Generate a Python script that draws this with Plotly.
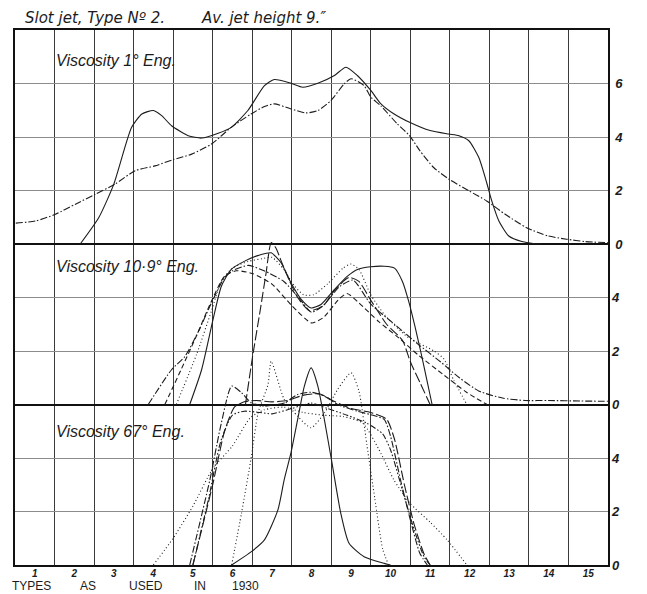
import plotly.graph_objects as go

# ---------------- data ----------------
x_ticks = list(range(1, 16))
x_tick_labels = [str(i) for i in x_ticks]

# Top panel: Viscosity 1° Eng.
top_solid_x = [2.15, 2.62, 3.0, 3.45, 3.71, 4.0, 4.21, 4.46, 4.88, 5.22, 5.64, 5.97, 6.39, 6.81, 7.06, 7.48,
               7.78, 8.16, 8.58, 8.87, 9.16, 9.5, 9.75, 10.08, 10.48, 11.0, 11.47, 11.73, 11.98, 12.23, 12.43,
               12.56, 12.74, 12.99, 13.32, 13.57, 13.8]
top_solid_y = [0.0, 0.99, 2.24, 4.36, 4.86, 4.99, 4.8, 4.42, 4.05, 3.96, 4.14, 4.36, 4.99, 5.92, 6.15, 6.01,
               5.86, 6.01, 6.3, 6.61, 6.3, 5.74, 5.25, 4.87, 4.55, 4.24, 4.11, 4.05, 3.86, 3.24, 2.3,
               1.61, 0.86, 0.3, 0.09, 0.03, 0.0]
top_dd_x = [0.52, 1.02, 1.52, 2.03, 2.53, 3.03, 3.54, 4.04, 4.49, 4.97, 5.47, 5.97, 6.47, 6.81, 7.06, 7.48,
            7.86, 8.16, 8.49, 8.83, 9.0, 9.33, 9.5, 9.75, 10.17, 10.48, 10.74, 11.09, 11.47, 11.98, 12.43,
            12.9, 13.44, 13.99, 14.45, 14.92, 15.5]
top_dd_y = [0.78, 0.86, 1.11, 1.49, 1.86, 2.24, 2.74, 2.92, 3.15, 3.36, 3.74, 4.36, 4.86, 5.14, 5.24, 5.05,
            4.9, 4.99, 5.36, 5.99, 6.18, 5.92, 5.49, 5.17, 4.49, 4.05, 3.49, 2.86, 2.43, 1.99, 1.61,
            1.11, 0.61, 0.3, 0.18, 0.09, 0.05]

# Middle panel: Viscosity 10·9° Eng.
mid_solid_x = [4.92, 5.22, 5.51, 5.72, 5.97, 6.31, 6.73, 6.98, 7.23, 7.48, 7.74, 7.99, 8.24, 8.58, 8.91,
               9.16, 9.5, 9.84, 10.1, 10.3, 10.45, 10.62, 10.76, 10.92, 11.05]
mid_solid_y = [0.0, 1.3, 3.18, 4.42, 5.05, 5.36, 5.61, 5.67, 5.3, 4.55, 3.93, 3.61, 3.74, 4.3, 4.8,
               5.05, 5.15, 5.17, 5.1, 4.6, 3.9, 2.9, 2.0, 0.9, 0.0]
mid_dot_x = [4.58, 5.1, 5.47, 5.72, 6.0, 6.4, 6.75, 7.0, 7.3, 7.56, 7.8, 8.05, 8.4, 8.8, 9.0, 9.2, 9.5,
             9.85, 10.45, 11.1, 11.35, 11.6, 11.93]
mid_dot_y = [0.0, 1.9, 3.5, 4.6, 5.1, 5.35, 5.45, 5.5, 5.05, 4.45, 4.1, 4.1, 4.5, 5.1, 5.25, 5.05, 4.1,
             3.35, 2.5, 2.0, 1.7, 0.9, 0.0]
mid_dash_x = [4.29, 4.7, 5.1, 5.45, 5.8, 6.1, 6.5, 7.0, 7.5, 8.0, 8.3, 8.7, 8.9, 9.2, 9.7, 10.2, 10.7,
              11.35, 11.93, 12.44]
mid_dash_y = [0.0, 1.3, 2.6, 3.8, 4.8, 5.0, 4.9, 4.5, 3.7, 3.05, 3.25, 3.95, 4.15, 3.8, 3.1, 2.5, 1.85,
              1.1, 0.45, 0.0]
mid_dd_x = [3.87, 4.46, 4.8, 5.13, 5.47, 5.8, 6.0, 6.4, 6.8, 7.3, 7.7, 8.0, 8.3, 8.7, 9.05, 9.5, 10.1,
            10.7, 11.26, 11.74, 12.24, 12.83, 13.4, 14.0, 14.8, 15.5]
mid_dd_y = [0.0, 1.3, 1.8, 2.7, 3.8, 4.75, 5.0, 5.2, 5.0, 4.6, 3.95, 3.45, 3.7, 4.4, 4.65, 3.75, 3.0,
            2.25, 1.6, 1.0, 0.5, 0.24, 0.15, 0.15, 0.13, 0.12]
mid_ld_x = [6.33, 6.5, 6.7, 6.85, 6.98, 7.1, 7.25, 7.45, 7.65, 7.95, 8.3, 8.6, 8.95, 9.2, 9.5, 9.9, 10.3,
            10.5, 10.75, 11.0]
mid_ld_y = [0.0, 1.7, 3.5, 4.9, 6.05, 5.85, 5.3, 4.6, 4.0, 3.5, 3.7, 4.3, 4.75, 4.6, 3.9, 3.0, 2.4,
            1.6, 0.8, 0.0]

# Bottom panel: Viscosity 67° Eng.
bot_solid_x = [5.98, 6.48, 6.81, 7.15, 7.31, 7.48, 7.65, 7.82, 7.99, 8.16, 8.49, 8.74, 8.95, 9.33, 9.84, 10.0]
bot_solid_y = [0.0, 0.5, 0.94, 2.06, 3.19, 4.19, 5.44, 6.69, 7.37, 6.69, 4.06, 1.94, 0.81, 0.31, 0.06, 0.0]
bot_dot_x = [5.98, 6.23, 6.48, 6.65, 6.9, 6.98, 7.31, 7.65, 7.99, 8.33, 8.66, 9.0, 9.2, 9.4, 9.6, 9.8, 9.95]
bot_dot_y = [0.0, 1.94, 4.06, 5.69, 6.75, 7.62, 6.19, 5.56, 5.13, 5.69, 6.56, 7.19, 6.5, 4.5, 2.5, 0.6, 0.0]
bot_dd_x = [4.92, 5.43, 5.72, 5.98, 6.23, 6.48, 6.81, 7.31, 7.65, 7.99, 8.33, 8.66, 9.16, 9.5, 9.84,
            10.0, 10.25, 10.5, 10.74, 10.93]
bot_dd_y = [0.0, 3.19, 5.31, 6.69, 6.44, 6.06, 5.94, 6.06, 6.37, 6.46, 6.31, 6.0, 5.75, 5.62, 5.44,
            4.81, 3.19, 1.69, 0.44, 0.0]
bot_dash_x = [5.0, 5.5, 5.8, 6.05, 6.3, 6.6, 7.0, 7.4, 7.8, 8.2, 8.6, 9.0, 9.5, 9.9, 10.1, 10.35, 10.6,
              10.85, 11.0]
bot_dash_y = [0.0, 3.0, 5.0, 5.9, 6.1, 6.15, 6.1, 6.15, 6.35, 6.4, 6.1, 5.85, 5.7, 5.45, 4.7, 3.0, 1.5,
              0.4, 0.0]
bot_dot2_x = [4.0, 4.5, 5.0, 5.5, 6.0, 6.45, 6.8, 7.3, 7.8, 8.3, 8.8, 9.3, 9.75, 10.08, 10.49, 11.0,
              11.43, 11.93]
bot_dot2_y = [0.0, 1.0, 2.2, 3.6, 4.45, 5.5, 5.8, 5.9, 5.7, 5.6, 5.55, 5.3, 4.19, 3.19, 2.31, 1.6,
              0.94, 0.0]
bot_ddd_x = [5.0, 5.4, 5.7, 6.0, 6.3, 6.7, 7.0, 7.5, 8.0, 8.4, 8.9, 9.4, 9.8, 10.0, 10.3, 10.6, 10.85, 11.0]
bot_ddd_y = [0.0, 2.5, 4.6, 5.6, 5.75, 5.7, 5.65, 5.85, 6.05, 5.85, 5.6, 5.3, 4.9, 4.3, 2.8, 1.3, 0.3, 0.0]

top_ticks = [0, 2, 4, 6]
mid_ticks = [0, 2, 4]
bot_ticks = [0, 2, 4]

title_parts = ["Slot jet, Type N\u00ba 2.", "Av. jet height 9.\u2033"]
panel_labels = ["Viscosity 1° Eng.", "Viscosity 10·9° Eng.", "Viscosity 67° Eng."]
footer_words = ["TYPES", "AS", "USED", "IN", "1930"]

# ---------------- styles ----------------
INK = "#1c1c1c"
SOLID = "solid"
DOT = "1px,2.5px"
DASH = "5px,3px"
DASHDOT = "7px,2px,1.5px,2px"
LONGDASH = "10px,3px"
DDD = "6px,2px,1.5px,2px,1.5px,2px"

fig = go.Figure()


def add(x, y, dash, axis, width=1.1):
    fig.add_trace(go.Scatter(x=x, y=y, mode="lines", yaxis=axis,
                             line=dict(color=INK, width=width, dash=dash, shape="spline", smoothing=0.6),
                             showlegend=False, hoverinfo="skip"))


add(top_solid_x, top_solid_y, SOLID, "y")
add(top_dd_x, top_dd_y, DASHDOT, "y")

add(mid_solid_x, mid_solid_y, SOLID, "y2")
add(mid_dot_x, mid_dot_y, DOT, "y2")
add(mid_dash_x, mid_dash_y, DASH, "y2")
add(mid_dd_x, mid_dd_y, DASHDOT, "y2")
add(mid_ld_x, mid_ld_y, LONGDASH, "y2")

add(bot_solid_x, bot_solid_y, SOLID, "y3")
add(bot_dot_x, bot_dot_y, DOT, "y3")
add(bot_dd_x, bot_dd_y, DASHDOT, "y3")
add(bot_dash_x, bot_dash_y, LONGDASH, "y3")
add(bot_dot2_x, bot_dot2_y, DOT, "y3")
add(bot_ddd_x, bot_ddd_y, DDD, "y3")

tickfont = dict(family="Liberation Sans", size=13, color=INK, style="italic", weight="bold")
grid_h = "#8c8c8c"

yaxis_common = dict(side="right", showgrid=True, gridcolor=grid_h, gridwidth=1.2,
                    ticks="", tickfont=tickfont, ticklabelstandoff=3, fixedrange=True)

fig.update_layout(
    width=639, height=586,
    margin=dict(l=5, r=39, t=22, b=29),
    paper_bgcolor="white", plot_bgcolor="white",
    xaxis=dict(range=[0.5, 15.5], tickvals=x_ticks, ticktext=x_tick_labels, showgrid=False,
               ticks="", tickfont=dict(family="Liberation Sans", size=10, color=INK, style="italic", weight="bold"),
               ticklabelstandoff=-2,
               showline=True, linecolor="#111", linewidth=2, mirror=True, zeroline=False,
               minor=dict(tick0=0.5, dtick=1, showgrid=True, gridcolor="#3a3a3a", gridwidth=1, ticks="")),
    yaxis=dict(range=[-12, 8], tickvals=top_ticks, zeroline=True, zerolinecolor="#111", zerolinewidth=2.2,
               showline=True, linecolor="#111", linewidth=1.5, mirror=True, **yaxis_common),
    yaxis2=dict(range=[-6, 14], tickvals=mid_ticks, overlaying="y", zeroline=True, zerolinecolor="#111",
                zerolinewidth=2.2, showline=False, **yaxis_common),
    yaxis3=dict(range=[0, 20], tickvals=bot_ticks, overlaying="y", zeroline=False, showline=False,
                **yaxis_common),
)

lab_font = dict(family="Liberation Sans", size=16, color=INK, style="italic")
for text, yv, yr in zip(panel_labels, [6.86, 5.17, 4.99], ["y", "y2", "y3"]):
    fig.add_annotation(x=1.49, y=yv, xref="x", yref=yr, text=text, showarrow=False,
                       xanchor="left", yanchor="middle", font=lab_font)

title_font = dict(family="DejaVu Sans", size=15, color=INK, style="italic")
for text, xp in zip(title_parts, [0.014, 0.31]):
    fig.add_annotation(x=xp, y=1.0224, xref="paper", yref="paper", text=text, showarrow=False,
                       xanchor="left", yanchor="middle", font=title_font)

foot_font = dict(family="Liberation Sans Narrow, Liberation Sans", size=12, color=INK)
for word, xpos in zip(footer_words, [-0.006, 0.1076, 0.19, 0.301, 0.365]):
    fig.add_annotation(x=xpos, y=-0.0542, xref="paper", yref="paper", text=word, showarrow=False,
                       xanchor="left", yanchor="bottom", borderpad=0, font=foot_font)

fig.write_html("out.html")
